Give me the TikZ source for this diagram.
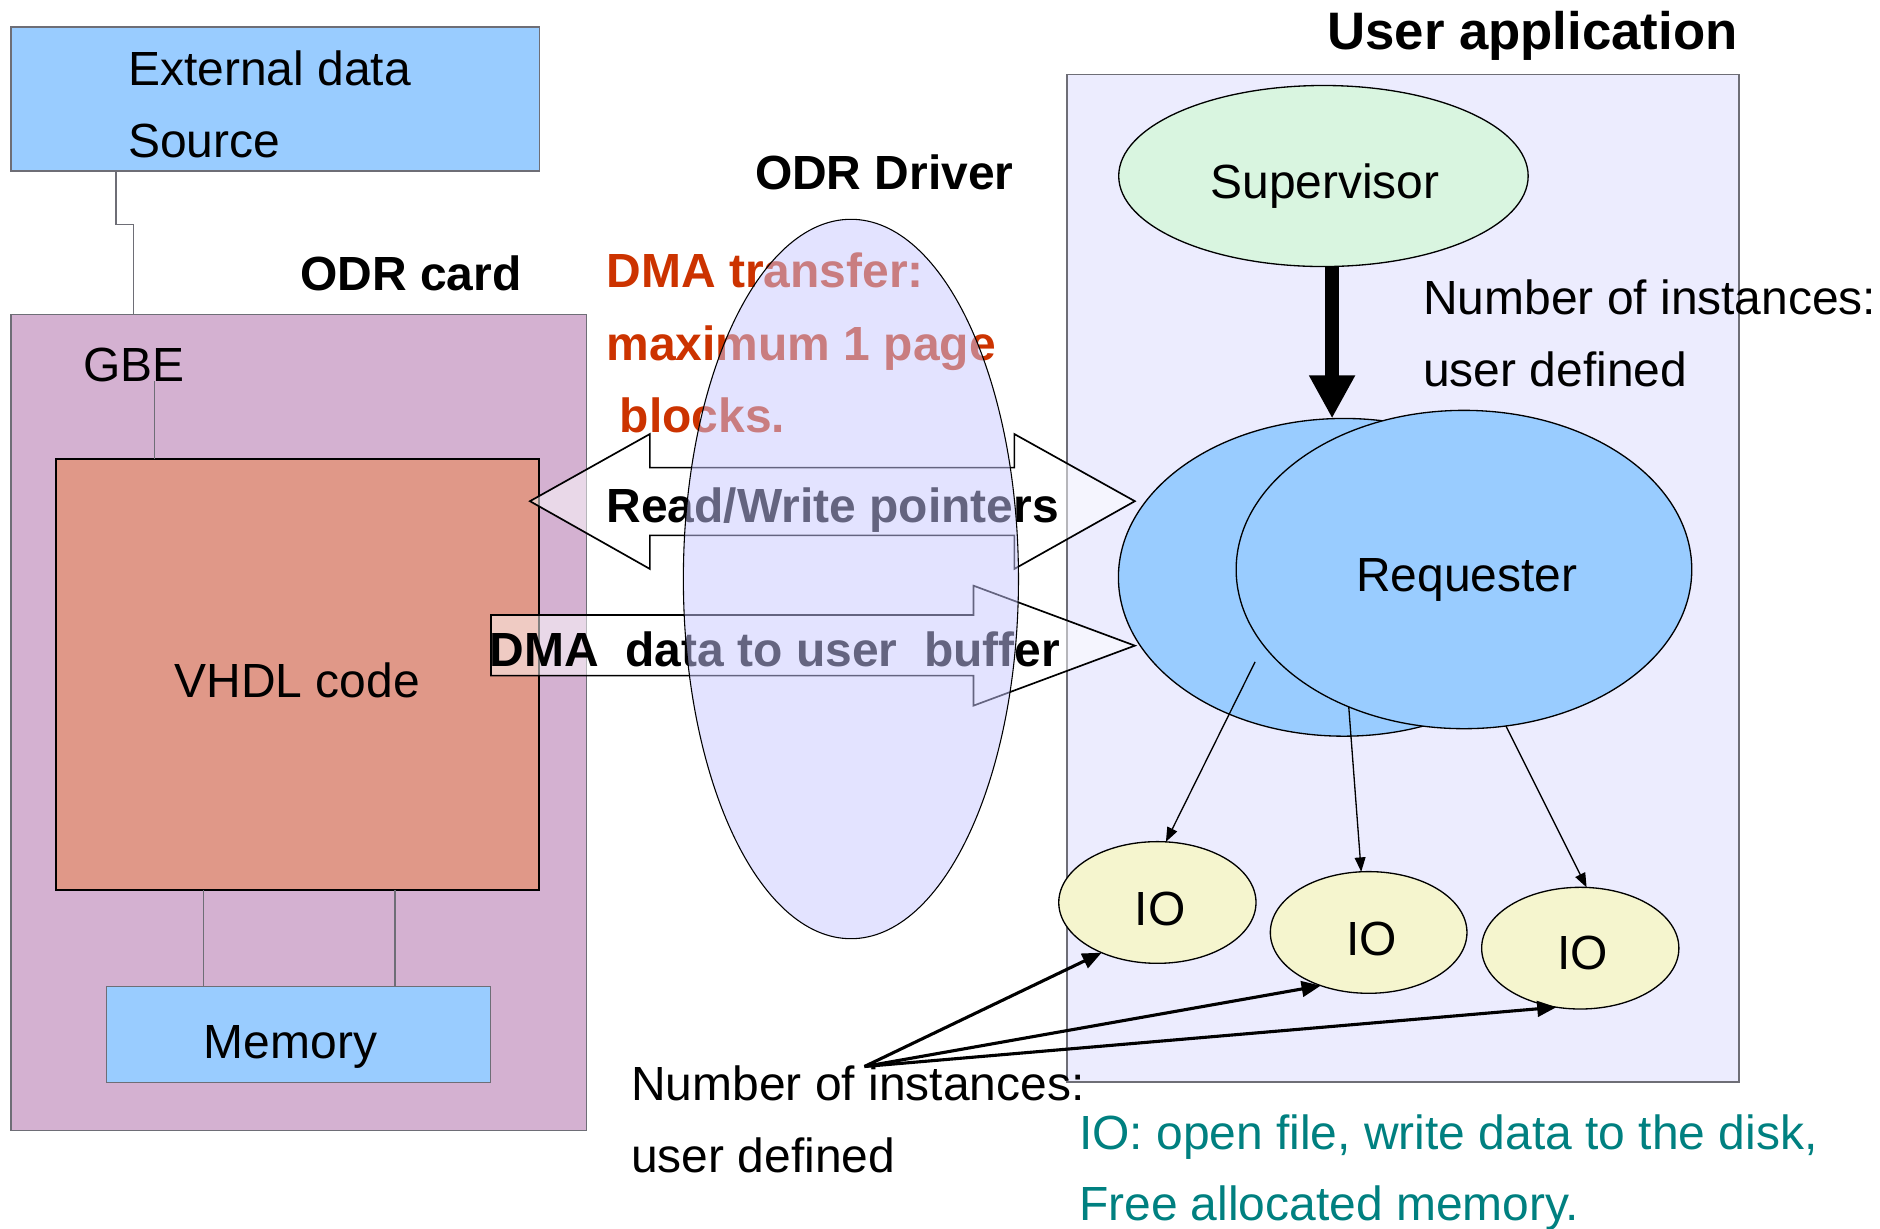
\documentclass[tikz,border=0pt]{standalone}
\usepackage{fontspec}
\setmainfont{Liberation Sans}
\usetikzlibrary{shapes.geometric, arrows.meta, fit}

\definecolor{paleblue}{RGB}{153,204,255}
\definecolor{cardpink}{RGB}{212,177,209}
\definecolor{vhdlsalmon}{RGB}{224,152,136}
\definecolor{applav}{RGB}{236,236,254}
\definecolor{supmint}{RGB}{217,245,224}
\definecolor{ioyellow}{RGB}{245,245,206}
\definecolor{drvlav}{RGB}{200,200,255}
\definecolor{edgegray}{RGB}{110,110,118}
\definecolor{dmared}{RGB}{204,51,0}
\definecolor{noteteal}{RGB}{0,128,128}

\begin{document}
\begin{tikzpicture}[x=1bp, y=-1bp,
  txt/.style={inner sep=0, outer sep=0, anchor=base west, font=\fontsize{40bp}{48bp}\selectfont},
  btxt/.style={txt, font=\fontsize{40bp}{48bp}\selectfont\bfseries},
  panel/.style={draw=edgegray, line width=1.2bp, inner sep=0, outer sep=0},
  oval/.style={ellipse, draw=black, line width=1.1bp, inner sep=0, outer sep=0},
  wire/.style={draw=edgegray, line width=1.1bp},
  thinarrow/.style={draw=black, line width=1.1bp, -{Triangle[length=12bp,width=9bp]}},
  fanarrow/.style={draw=black, line width=2.6bp, -{Triangle[length=16bp,width=13bp]}},
  blockarrow/.style={draw=black, line width=1.4bp, fill=white, fill opacity=0.5, line join=miter}
]
\useasboundingbox (0,0) rectangle (1568,1025);

% ---- ODR card and external source ----
\node[panel, fill=paleblue, fit={(9,22.5) (450,142.5)}] (ext) {};
\node[panel, fill=cardpink, fit={(9,262.5) (489,943)}] (card) {};
\node[panel, draw=black, line width=1.8bp, fill=vhdlsalmon, fit={(46.5,383) (449.5,742.5)}] (vhdl) {};
\node[panel, fill=paleblue, fit={(89,823) (409,903)}] (mem) {};

\node[txt] (extA) at (107,71) {External data};
\node[txt] (extB) at (107,131) {Source};
\node[btxt] (cardlbl) at (250.5,242) {ODR card};
\node[txt] (gbe) at (69.5,318) {GBE};
\node[txt, anchor=base] (vhdllbl) at (248,582) {VHDL code};
\node[txt] (memlbl) at (170,883) {Memory};

\draw[wire] ([xshift=87.7bp]ext.south west) -- ++(0,44.5) -| ([xshift=102.4bp]card.north west);
\draw[wire] ([xshift=82.5bp]vhdl.north west) -- ([xshift=82.5bp]vhdl.north west |- gbe.base);
\draw[wire] ([xshift=80.7bp]mem.north west) -- ([xshift=80.7bp]mem.north west |- vhdl.south);
\draw[wire] ([xshift=240.5bp]mem.north west) -- ([xshift=240.5bp]mem.north west |- vhdl.south);

% ---- user application ----
\node[panel, fill=applav, fit={(890,62.3) (1450.5,902.5)}] (app) {};
\node[btxt, font=\fontsize{44bp}{52bp}\selectfont\bfseries] (applbl) at (1107,41) {User application};

\node[oval, fill=supmint, minimum width=341.5bp, minimum height=151bp] (sup) at (1103.8,146.8) {};
\node[txt] (suplbl) at (1009.5,165.5) {Supervisor};

\node[oval, fill=paleblue, minimum width=376bp, minimum height=265bp] (reqB) at (1120.8,481.5) {};
\node[oval, fill=paleblue, minimum width=380bp, minimum height=265.5bp] (reqF) at (1221,475) {};
\node[txt] (reqlbl) at (1131,493) {Requester};

\node[txt] (instA) at (1187,262.5) {Number of instances:};
\node[txt] (instB) at (1187,322.5) {user defined};

\coordinate (supx) at (1111,0);
\draw[line width=12bp, -{Triangle[length=36bp,width=36bp]}] (sup.south -| supx) -- (reqB.north -| supx);

\node[oval, fill=ioyellow, minimum width=164.5bp, minimum height=101.5bp] (io1) at (965.3,752.7) {};
\node[oval, fill=ioyellow, minimum width=164bp, minimum height=101.5bp] (io2) at (1141.5,777.7) {};
\node[oval, fill=ioyellow, minimum width=164.5bp, minimum height=101.5bp] (io3) at (1318,790.8) {};
\node[txt] (io1lbl) at (946.5,771.5) {IO};
\node[txt] (io2lbl) at (1123,796.5) {IO};
\node[txt] (io3lbl) at (1299,809) {IO};

\draw[thinarrow] ([shift={(-74,70.5)}]reqB.center) -- (io1.82);
\draw[thinarrow] (reqF.230) -- (io2.97);
\draw[thinarrow] (reqF.285) -- (io3.84);

% ---- transfer arrows through the driver ----
\draw[blockarrow] (442,418) -- (542,362) -- (542,390) -- (846,390) -- (846,362) -- (946.5,418)
  -- (846,474.5) -- (846,446.5) -- (542,446.5) -- (542,474.5) -- cycle;
\draw[blockarrow] (409.5,513) -- (812,513) -- (812,488.5) -- (946.5,538.5) -- (812,588.5)
  -- (812,563.5) -- (409.5,563.5) -- cycle;

\node[btxt, text=dmared] (dmaA) at (506,239.6) {DMA transfer:};
\node[btxt, text=dmared] (dmaB) at (506,300.3) {maximum 1 page};
\node[btxt, text=dmared] (dmaC) at (517,361) {blocks.};
\node[btxt] (rwlbl) at (506,435.5) {Read/Write pointers};
\node[btxt] (dmalbl) at (408.5,556) {DMA\ \ data to user\ \ buffer};

% driver layer, translucent over the transfers
\node[oval, line width=0.9bp, fill=drvlav, fill opacity=0.5, minimum width=279.5bp, minimum height=600bp] (drv) at (709.7,482.9) {};
\node[btxt] (drvlbl) at (629.7,158.3) {ODR Driver};

% ---- IO instances note ----
\node[txt] (fanA) at (526.5,917.5) {Number of instances:};
\node[txt] (fanB) at (526.5,978) {user defined};
\coordinate (fan) at (721,889.5);
\draw[fanarrow] (fan) -- (io1.222);
\draw[fanarrow] (fan) -- (io2.228);
\draw[fanarrow] (fan) -- (io3.248);

\node[txt, text=noteteal] (ioA) at (900,958.6) {IO: open file, write data to the disk,};
\node[txt, text=noteteal] (ioB) at (900,1018) {Free allocated memory.};
\end{tikzpicture}
\end{document}
